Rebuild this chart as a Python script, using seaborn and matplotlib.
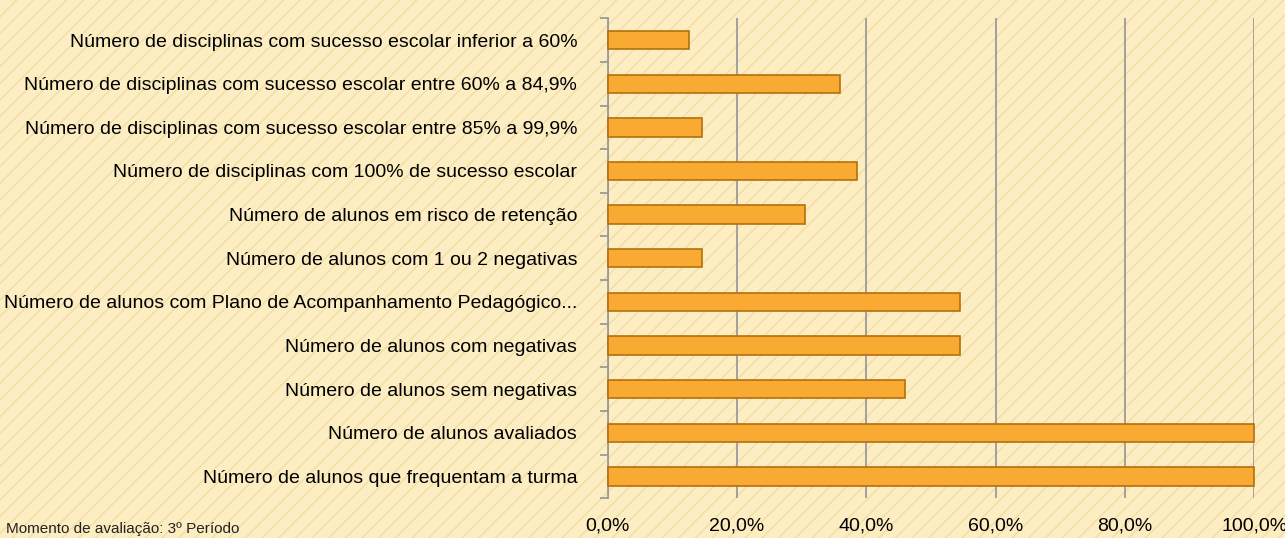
import matplotlib
matplotlib.use("Agg")
import matplotlib.pyplot as plt
import matplotlib.ticker as mticker
import seaborn as sns
import numpy as np
import pandas as pd
from matplotlib.patches import Rectangle

# Dados do gráfico (percentagens)
categorias = [
    "Número de disciplinas com sucesso escolar inferior a 60%",
    "Número de disciplinas com sucesso escolar entre 60% a 84,9%",
    "Número de disciplinas com sucesso escolar entre 85% a 99,9%",
    "Número de disciplinas com 100% de sucesso escolar",
    "Número de alunos em risco de retenção",
    "Número de alunos com 1 ou 2 negativas",
    "Número de alunos com Plano de Acompanhamento Pedagógico...",
    "Número de alunos com negativas",
    "Número de alunos sem negativas",
    "Número de alunos avaliados",
    "Número de alunos que frequentam a turma",
]
percentagens = [12.5, 36.0, 14.5, 38.5, 30.5, 14.5, 54.5, 54.5, 46.0, 100.0, 100.0]
ticks_x = [0, 20, 40, 60, 80, 100]

df = pd.DataFrame({"categoria": categorias, "valor": percentagens})

sns.set_theme(style="white")
plt.rcParams["font.family"] = ["Liberation Sans", "DejaVu Sans"]

fundo = "#FCEDC2"
fig = plt.figure(figsize=(12.85, 5.38), dpi=100, facecolor=fundo)

# textura de fundo com riscas diagonais
fig.add_artist(Rectangle((0, 0), 1, 1, transform=fig.transFigure, facecolor=fundo,
                         edgecolor="#F2DDA2", hatch="//", linewidth=0, zorder=-10))

ax = fig.add_axes([0.473, 0.074, 0.503, 0.892])
ax.set_facecolor("none")

sns.barplot(data=df, y="categoria", x="valor", orient="h", color="#F9AA33",
            saturation=1, width=0.42, edgecolor="#B56F0E", linewidth=1.2,
            ax=ax, zorder=3)
for p in ax.patches:
    p.set_clip_on(False)

ax.set_xlim(0, 100)
ax.set_xticks(ticks_x)
ax.xaxis.set_major_formatter(mticker.FuncFormatter(lambda v, _: f"{v:.1f}%".replace(".", ",")))
ax.set_xlabel("")
ax.set_ylabel("")

ax.grid(axis="x", color="#9A9A9A", linewidth=1.3, zorder=0)
for lado in ["top", "right", "bottom"]:
    ax.spines[lado].set_visible(False)
ax.spines["left"].set_color("#9A9A9A")
ax.spines["left"].set_linewidth(1.3)

ax.tick_params(axis="x", labelsize=14, colors="black", length=0, pad=14)
ax.tick_params(axis="y", labelsize=14, colors="black", length=0, pad=22)
ax.set_yticks(np.arange(-0.5, len(categorias)), minor=True)
ax.tick_params(axis="y", which="minor", length=6, color="#9A9A9A", width=1.3, left=True)

fig.text(0.005, 0.004, "Momento de avaliação: 3º Período", fontsize=11,
         va="bottom", ha="left", color="#222222")

plt.savefig("out.png", dpi=100, facecolor=fundo)
